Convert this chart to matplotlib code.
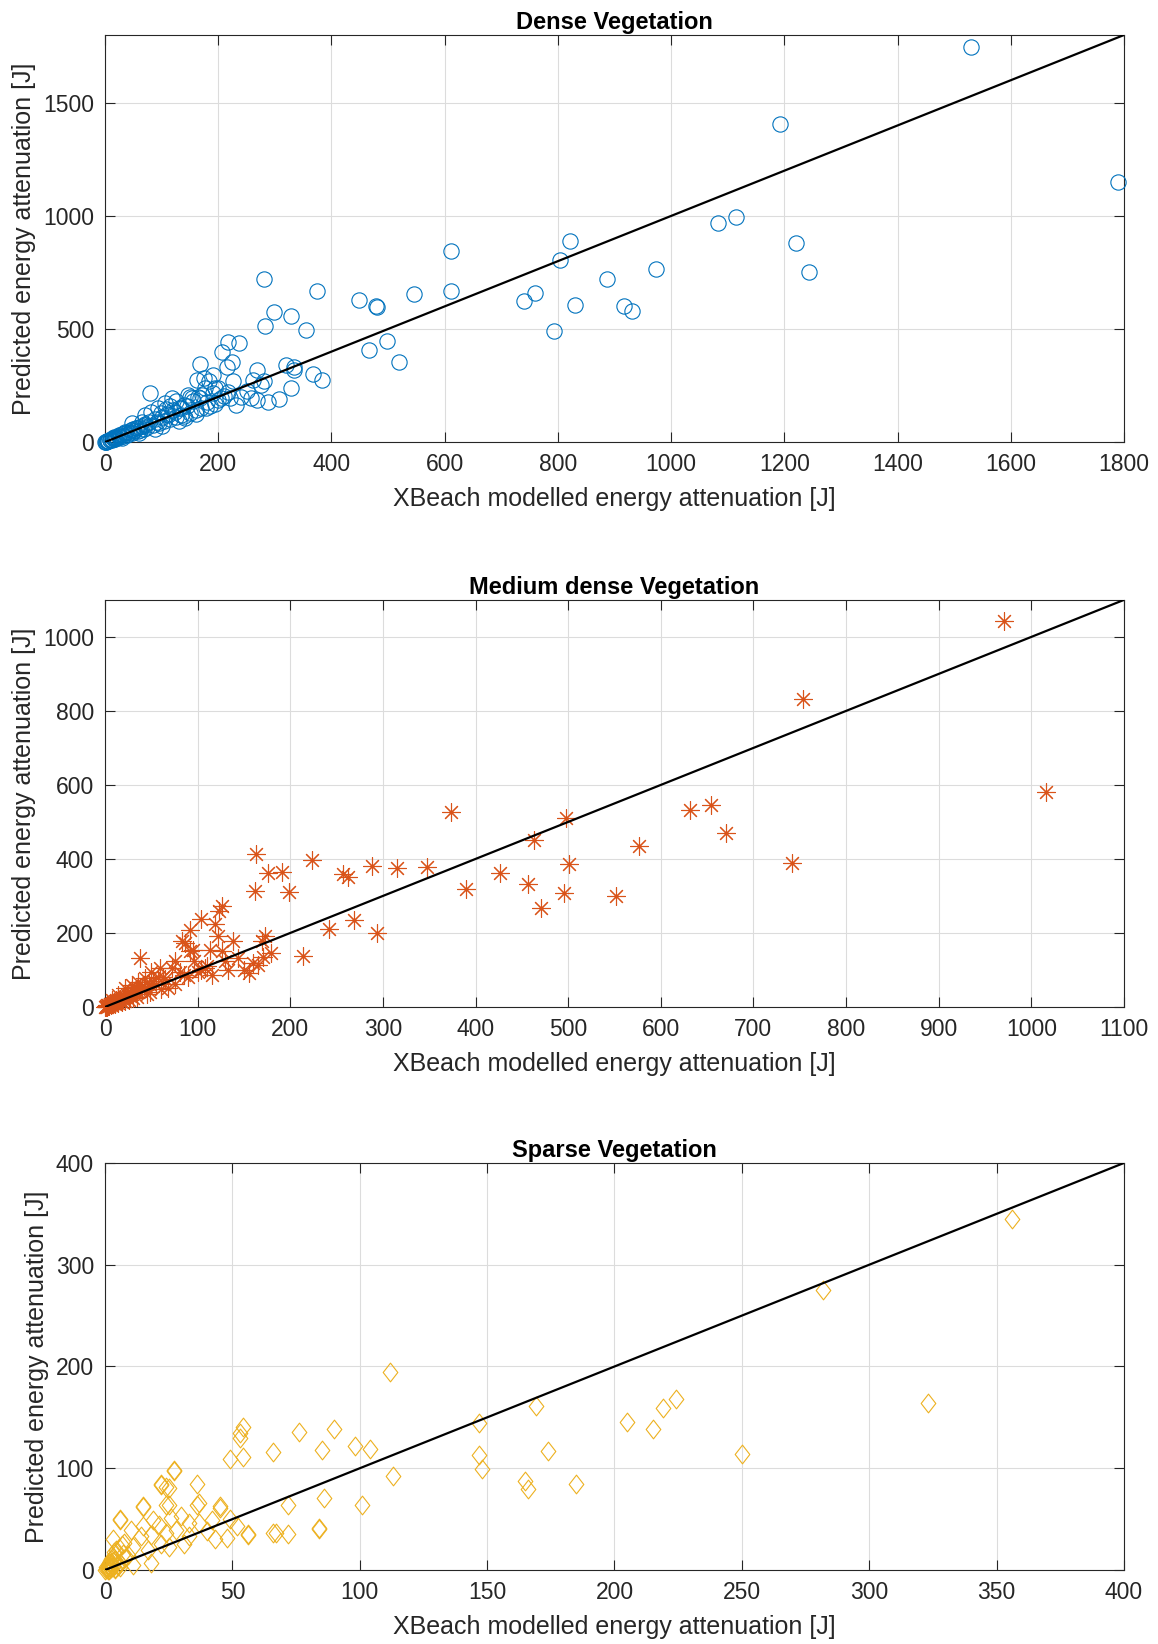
import numpy as np
import matplotlib
matplotlib.use("Agg")
import matplotlib.pyplot as plt
from matplotlib.path import Path

plt.rcParams['font.family'] = ['Liberation Sans', 'DejaVu Sans']

# ---- Dense vegetation (blue circles) ----
dense_x = [1529, 1789, 1193, 1082, 1115, 1220, 1244, 612, 546, 612, 822, 803, 760, 740, 830,
           886, 973, 916, 931, 793,
           280, 375, 448, 478, 481, 299, 328, 282, 355, 499, 466, 519, 236, 218, 206, 225,
           215, 167, 268, 320, 333, 333, 368, 384, 328, 307, 288, 280, 262, 257, 268, 276,
           231, 226, 218, 221, 205, 190, 184, 175, 162, 171, 179, 168, 153, 147, 135, 141,
           118, 106, 79, 82, 91, 71, 65, 56, 47, 35, 24, 112, 124, 94, 71, 194, 176,
           0, 1, 2, 3, 4, 5, 6, 8, 9, 10, 12, 14, 15, 17, 18, 20, 22, 25, 27, 30, 32, 35, 38,
           40, 43, 45, 48, 50, 52, 55, 58, 60, 62, 65, 68, 70, 75, 78, 85, 88, 95, 100, 105,
           110, 115, 120, 125, 130, 135, 140, 150, 155, 160, 165, 170, 180, 185, 190, 195,
           200, 210, 240, 250, 200, 130, 145, 100, 60, 30, 15,
           125, 140, 150, 115, 160, 108, 98, 88]
dense_y = [1749, 1149, 1408, 968, 995, 879, 750, 844, 654, 666, 888, 804, 660, 623, 608,
           721, 765, 602, 578, 493,
           722, 667, 627, 602, 597, 575, 558, 513, 494, 445, 405, 354, 439, 441, 398, 352,
           333, 346, 320, 340, 333, 318, 300, 275, 238, 191, 176, 268, 274, 194, 186, 253,
           164, 268, 223, 194, 194, 297, 268, 282, 275, 209, 149, 194, 194, 209, 149, 105,
           194, 172, 216, 135, 90, 120, 90, 61, 83, 46, 31, 120, 135, 149, 75, 238, 238,
           0, 2, 1, 4, 3, 6, 5, 9, 7, 12, 10, 16, 13, 20, 15, 24, 19, 28, 23, 35, 27, 40, 33,
           46, 38, 52, 42, 58, 47, 62, 50, 68, 55, 72, 60, 80, 65, 88, 75, 100, 85, 110, 92,
           125, 100, 140, 110, 150, 120, 165, 130, 180, 140, 200, 150, 175, 160, 215, 170,
           185, 205, 200, 225, 240, 95, 160, 70, 40, 18, 22,
           180, 115, 200, 160, 125, 145, 130, 60]

# ---- Medium dense vegetation (orange asterisks) ----
medium_x = [970, 754, 1016, 373, 498, 631, 654, 670, 463, 576, 742, 501, 288, 315, 348,
            426, 457, 495, 471, 552, 390,
            163, 223, 176, 191, 257, 262, 162, 199, 126, 123, 104, 119, 92, 122, 138, 173,
            169, 179, 242, 269, 294, 214, 38, 86, 92, 95, 113, 126, 144, 155, 165, 133, 115,
            104, 90, 76, 72, 63, 59, 50, 43, 36, 29, 22, 14, 7, 49, 68, 81, 96, 108, 129, 83,
            0, 1, 2, 3, 4, 5, 6, 8, 10, 11, 12, 14, 16, 18, 20, 22, 24, 26, 28, 30, 33, 35,
            40, 45, 55, 60, 65, 75, 85, 100, 110, 150, 160, 170,
            1, 2, 3, 5, 7, 9, 13, 15, 17, 19, 21, 25, 27, 31, 34, 38, 42, 47, 52, 57]
medium_y = [1043, 833, 581, 528, 511, 531, 547, 471, 452, 436, 389, 385, 381, 376, 377,
            363, 333, 308, 268, 300, 320,
            414, 396, 361, 364, 359, 351, 313, 310, 274, 258, 238, 225, 208, 192, 177, 192,
            177, 147, 211, 234, 201, 138, 133, 172, 150, 154, 154, 150, 132, 93, 114, 100, 86,
            100, 82, 123, 104, 82, 104, 95, 77, 68, 59, 50, 32, 19, 41, 50, 95, 123, 104, 123, 177,
            0, 3, 1, 5, 2, 8, 4, 10, 14, 7, 18, 10, 22, 13, 28, 16, 32, 20, 36, 24, 45, 27,
            55, 35, 60, 48, 75, 62, 85, 95, 110, 100, 120, 135,
            1, 4, 2, 7, 9, 12, 15, 20, 17, 25, 30, 35, 29, 40, 44, 50, 57, 62, 70, 80]

# ---- Sparse vegetation (yellow diamonds) ----
sparse_x = [356, 282, 323, 112, 169, 224, 219, 205, 215, 147, 174, 250, 98, 104, 147, 148,
            113, 165, 166, 185, 101,
            54, 53, 53, 49, 54, 66, 76, 90, 85, 86, 72, 84, 66, 56, 52, 49, 45, 45, 36, 36,
            27, 22, 25, 15, 25, 6, 72, 84, 67,
            27, 22, 24, 15, 24, 37, 6, 10, 15, 19, 21, 26, 30, 33, 37, 42, 28, 24, 18, 14,
            33, 40, 43, 48, 56, 31, 25, 22, 17, 11, 7, 3, 3, 6, 11, 18, 2,
            0, 0.5, 1, 1.5, 2, 2.5, 3, 4, 5, 1, 2, 3, 4, 8, 9,
            0.5, 1, 1.5, 2, 2.5, 3, 3.5, 4.5, 5.5, 6.5, 7.5, 1, 2, 3, 4, 5, 6]
sparse_y = [345, 275, 164, 195, 161, 168, 159, 145, 139, 144, 117, 114, 122, 119, 113, 99,
            92, 87, 80, 85, 64,
            141, 135, 130, 109, 111, 116, 136, 139, 118, 71, 64, 41, 36, 35, 43, 50, 63, 61,
            85, 64,
            98, 84, 81, 63, 64, 50, 35, 40, 36,
            97, 85, 82, 62, 64, 66, 49, 39, 43, 49, 44, 51, 53, 46, 46, 49, 39, 36, 34, 33,
            33, 38, 30, 31, 34, 26, 23, 26, 20, 23, 16, 30, 13, 7, 5, 7, 3,
            0, 1, 2, 0.5, 3, 1.5, 4, 2, 6, 4, 7, 9, 10, 12, 15,
            3, 5, 7, 9, 11, 13, 18, 20, 22, 25, 27, 0, 1.5, 2.5, 1, 4, 3]

diamond = Path([(0, 1), (0.78, 0), (0, -1), (-0.78, 0), (0, 1)], [1, 2, 2, 2, 79])

panels = [
    dict(title='Dense Vegetation', x=dense_x, y=dense_y, lim=1800,
         xticks=np.arange(0, 1801, 200), yticks=np.arange(0, 1501, 500),
         color='#0072BD', marker='o', ms=11, bottom=0.7311),
    dict(title='Medium dense Vegetation', x=medium_x, y=medium_y, lim=1100,
         xticks=np.arange(0, 1101, 100), yticks=np.arange(0, 1001, 200),
         color='#D95319', marker=(8, 2, 0), ms=13, bottom=0.3875),
    dict(title='Sparse Vegetation', x=sparse_x, y=sparse_y, lim=400,
         xticks=np.arange(0, 401, 50), yticks=np.arange(0, 401, 100),
         color='#EDB120', marker=diamond, ms=13.5, bottom=0.045),
]

fig = plt.figure(figsize=(11.58, 16.44), dpi=100)
axcol = '#262626'

for p in panels:
    ax = fig.add_axes([0.0907, p['bottom'], 0.8799, 0.2476])
    ax.plot(p['x'], p['y'], linestyle='none', marker=p['marker'], markersize=p['ms'],
            markerfacecolor='none', markeredgecolor=p['color'], markeredgewidth=0.8,
            clip_on=False, zorder=3)
    ax.plot([0, p['lim']], [0, p['lim']], color='black', linewidth=1.6, zorder=4)
    ax.set_xlim(0, p['lim'])
    ax.set_ylim(0, p['lim'])
    ax.set_xticks(p['xticks'])
    ax.set_yticks(p['yticks'])
    ax.grid(True, color='#dcdcdc', linewidth=0.8)
    ax.set_axisbelow(True)
    ax.tick_params(direction='in', length=7, width=0.8, top=True, right=True,
                   labelsize=16.5, colors=axcol, pad=8)
    for s in ax.spines.values():
        s.set_color(axcol)
        s.set_linewidth(0.8)
    ax.set_title(p['title'], fontsize=17, fontweight='bold', pad=4)
    ax.set_xlabel('XBeach modelled energy attenuation [J]', fontsize=18, color=axcol,
                  labelpad=8)
    ax.set_ylabel('Predicted energy attenuation [J]', fontsize=18, color=axcol,
                  labelpad=5)

fig.savefig('out.png', dpi=100)
